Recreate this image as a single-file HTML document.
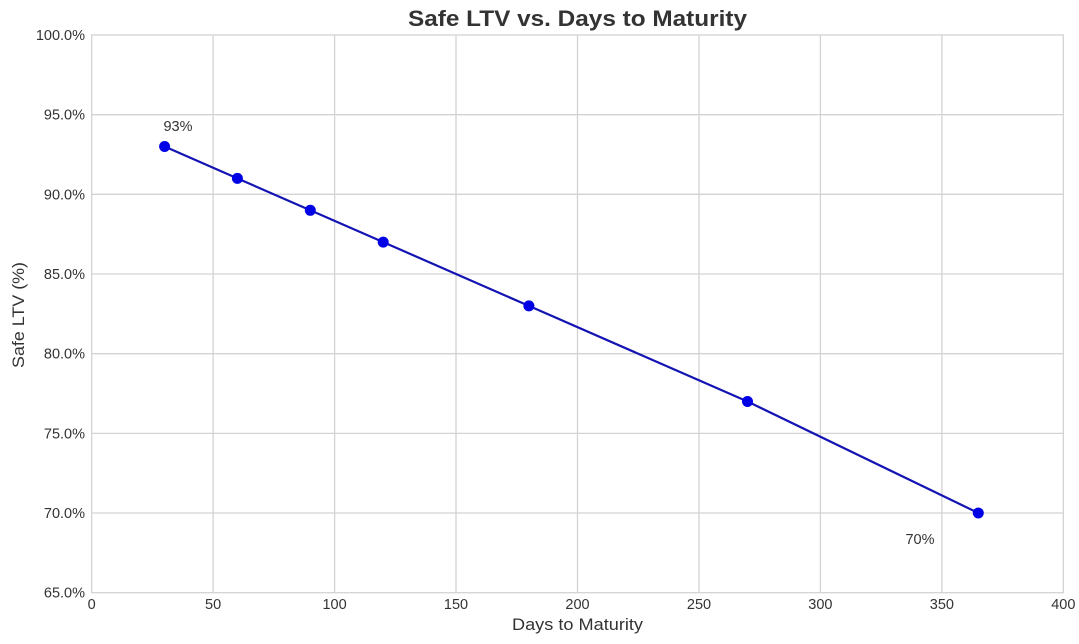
<!DOCTYPE html>
<html><head><meta charset="utf-8"><style>
html,body{margin:0;padding:0;background:#fff;}
svg{display:block;}
text{font-family:"Liberation Sans",Arial,sans-serif;fill:#333;}
</style></head><body>
<svg width="1079" height="644" viewBox="0 0 1079 644" xmlns="http://www.w3.org/2000/svg">
<rect width="1079" height="644" fill="#fff"/>
<g stroke="#d3d3d3" stroke-width="1.3" fill="none">
<line x1="91.7" y1="114.7" x2="1063.3" y2="114.7"/>
<line x1="91.7" y1="194.3" x2="1063.3" y2="194.3"/>
<line x1="91.7" y1="274" x2="1063.3" y2="274"/>
<line x1="91.7" y1="353.7" x2="1063.3" y2="353.7"/>
<line x1="91.7" y1="433.4" x2="1063.3" y2="433.4"/>
<line x1="91.7" y1="513" x2="1063.3" y2="513"/>
<line x1="213.1" y1="35" x2="213.1" y2="592.7"/>
<line x1="334.6" y1="35" x2="334.6" y2="592.7"/>
<line x1="456" y1="35" x2="456" y2="592.7"/>
<line x1="577.5" y1="35" x2="577.5" y2="592.7"/>
<line x1="699" y1="35" x2="699" y2="592.7"/>
<line x1="820.4" y1="35" x2="820.4" y2="592.7"/>
<line x1="941.9" y1="35" x2="941.9" y2="592.7"/>
<rect x="91.7" y="35" width="971.6" height="557.7"/>
</g>
<g font-size="14.5" text-anchor="end">
<text x="85" y="40">100.0%</text>
<text x="85" y="119.7">95.0%</text>
<text x="85" y="199.3">90.0%</text>
<text x="85" y="279">85.0%</text>
<text x="85" y="358.7">80.0%</text>
<text x="85" y="438.4">75.0%</text>
<text x="85" y="518">70.0%</text>
<text x="85" y="597.7">65.0%</text>
</g>
<g font-size="14.5" text-anchor="middle">
<text x="91.7" y="609">0</text>
<text x="213.1" y="609">50</text>
<text x="334.6" y="609">100</text>
<text x="456" y="609">150</text>
<text x="577.5" y="609">200</text>
<text x="699" y="609">250</text>
<text x="820.4" y="609">300</text>
<text x="941.9" y="609">350</text>
<text x="1063.3" y="609">400</text>
</g>
<text x="577.5" y="26" font-size="22" font-weight="bold" text-anchor="middle" textLength="339" lengthAdjust="spacingAndGlyphs">Safe LTV vs. Days to Maturity</text>
<text x="577.5" y="630" font-size="16.5" text-anchor="middle" textLength="131" lengthAdjust="spacingAndGlyphs">Days to Maturity</text>
<text transform="translate(24,315) rotate(-90)" font-size="16.5" text-anchor="middle" textLength="106" lengthAdjust="spacingAndGlyphs">Safe LTV (%)</text>
<polyline points="164.6,146.5 237.4,178.4 310.3,210.3 383.2,242.1 528.9,305.9 747.5,401.5 978.3,513" fill="none" stroke="#1414b4" stroke-width="2.2"/>
<g fill="#0000e6">
<circle cx="164.6" cy="146.5" r="5.5"/>
<circle cx="237.4" cy="178.4" r="5.5"/>
<circle cx="310.3" cy="210.3" r="5.5"/>
<circle cx="383.2" cy="242.1" r="5.5"/>
<circle cx="528.9" cy="305.9" r="5.5"/>
<circle cx="747.5" cy="401.5" r="5.5"/>
<circle cx="978.3" cy="513" r="5.5"/>
</g>
<text x="178" y="131" font-size="14.5" text-anchor="middle">93%</text>
<text x="920" y="544" font-size="14.5" text-anchor="middle">70%</text>
</svg>
</body></html>
